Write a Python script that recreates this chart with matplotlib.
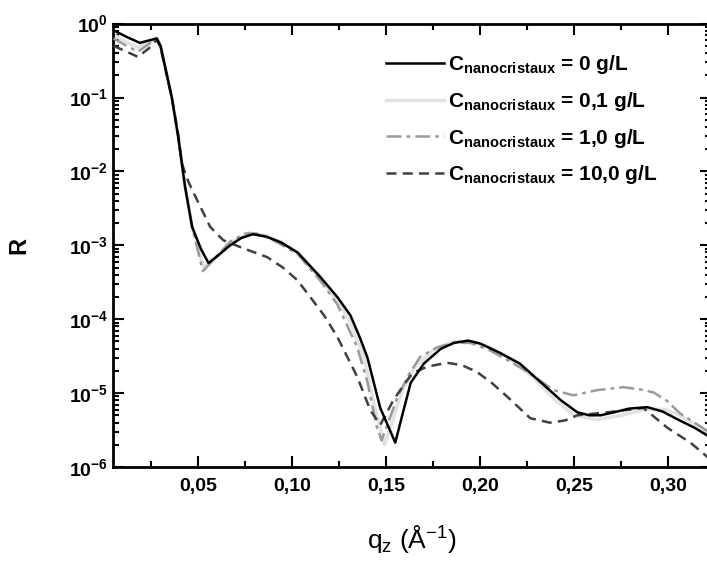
import numpy as np
import matplotlib
matplotlib.use("Agg")
import matplotlib.pyplot as plt
from matplotlib.ticker import LogLocator, MultipleLocator, FuncFormatter, NullFormatter

plt.rcParams['font.family'] = ['Liberation Sans', 'DejaVu Sans']
plt.rcParams['mathtext.default'] = 'regular'

# reflectivity curves, q_z in 1/A, values given as log10(R)
q_0 = [0.005, 0.012, 0.019, 0.028, 0.030, 0.036, 0.0394, 0.043, 0.0468, 0.0515, 0.0555,
       0.060, 0.067, 0.073, 0.079, 0.086, 0.094, 0.103, 0.115, 0.124, 0.131, 0.136,
       0.140, 0.1468, 0.1548, 0.1585, 0.163, 0.170, 0.179, 0.186, 0.1936, 0.200, 0.210,
       0.221, 0.232, 0.243, 0.2516, 0.258, 0.264, 0.271, 0.279, 0.2888, 0.297, 0.306,
       0.314, 0.3224]
logr_0 = [-0.09, -0.18, -0.26, -0.20, -0.30, -1.00, -1.53, -2.20, -2.75, -3.05, -3.24,
          -3.15, -3.00, -2.90, -2.85, -2.88, -2.96, -3.10, -3.43, -3.70, -3.95, -4.25,
          -4.52, -5.20, -5.67, -5.30, -4.86, -4.60, -4.40, -4.32, -4.29, -4.33, -4.45,
          -4.60, -4.85, -5.10, -5.26, -5.30, -5.30, -5.26, -5.21, -5.19, -5.25, -5.37,
          -5.47, -5.60]

q_01 = [0.005, 0.012, 0.018, 0.028, 0.030, 0.036, 0.0394, 0.043, 0.0468, 0.053, 0.058,
        0.067, 0.077, 0.086, 0.094, 0.103, 0.115, 0.124, 0.131, 0.138, 0.144, 0.149,
        0.153, 0.158, 0.165, 0.175, 0.186, 0.195, 0.205, 0.215, 0.228, 0.240, 0.250,
        0.262, 0.275, 0.288, 0.298, 0.306, 0.3224]
logr_01 = [-0.15, -0.25, -0.32, -0.20, -0.30, -1.00, -1.53, -2.20, -2.75, -3.30, -3.20,
           -2.97, -2.83, -2.87, -2.95, -3.10, -3.45, -3.75, -4.05, -4.50, -5.20, -5.70,
           -5.40, -5.00, -4.65, -4.42, -4.30, -4.30, -4.38, -4.52, -4.78, -5.10, -5.30,
           -5.36, -5.30, -5.22, -5.22, -5.30, -5.55]

q_1 = [0.005, 0.012, 0.018, 0.028, 0.030, 0.036, 0.0394, 0.043, 0.0468, 0.0525, 0.058,
       0.067, 0.075, 0.081, 0.090, 0.103, 0.115, 0.124, 0.1346, 0.140, 0.145, 0.1475,
       0.151, 0.156, 0.162, 0.168, 0.177, 0.186, 0.1947, 0.205, 0.215, 0.225, 0.239,
       0.2495, 0.262, 0.276, 0.285, 0.292, 0.299, 0.306, 0.3224]
logr_1 = [-0.20, -0.30, -0.38, -0.20, -0.30, -1.00, -1.53, -2.20, -2.75, -3.35, -3.20,
          -2.95, -2.84, -2.84, -2.93, -3.12, -3.48, -3.80, -4.38, -4.85, -5.46, -5.64,
          -5.40, -5.05, -4.75, -4.51, -4.38, -4.32, -4.32, -4.42, -4.56, -4.71, -4.96,
          -5.03, -4.96, -4.92, -4.95, -4.99, -5.10, -5.27, -5.54]

q_10 = [0.005, 0.012, 0.018, 0.024, 0.028, 0.030, 0.036, 0.0394, 0.0413, 0.045, 0.0495,
        0.0564, 0.0633, 0.074, 0.0867, 0.095, 0.1027, 0.1096, 0.117, 0.124, 0.1346,
        0.1415, 0.1468, 0.1537, 0.159, 0.164, 0.172, 0.1824, 0.190, 0.198, 0.206, 0.2144,
        0.2266, 0.237, 0.245, 0.2516, 0.2676, 0.2867, 0.2995, 0.3117, 0.3224]
logr_10 = [-0.30, -0.38, -0.45, -0.33, -0.22, -0.32, -1.00, -1.50, -1.89, -2.15, -2.39,
           -2.75, -2.93, -3.04, -3.16, -3.30, -3.47, -3.70, -3.95, -4.24, -4.78,
           -5.23, -5.43, -5.10, -4.90, -4.73, -4.64, -4.59, -4.62, -4.71, -4.86, -5.05,
           -5.34, -5.40, -5.37, -5.30, -5.26, -5.20, -5.47, -5.67, -5.90]

labels = ['C$_{nanocristaux}$ = 0 g/L', 'C$_{nanocristaux}$ = 0,1 g/L',
          'C$_{nanocristaux}$ = 1,0 g/L', 'C$_{nanocristaux}$ = 10,0 g/L']

fig = plt.figure(figsize=(7.07, 5.63), dpi=100)
ax = fig.add_axes([0.16, 0.1705, 0.845, 0.7875])

ax.plot(q_0, 10 ** np.array(logr_0), color='black', lw=1.8, ls='-', label=labels[0], zorder=5)
ax.plot(q_01, 10 ** np.array(logr_01), color='#e2e2e2', lw=2.5, ls='-', label=labels[1], zorder=2)
ax.plot(q_1, 10 ** np.array(logr_1), color='#9a9a9a', lw=1.8, ls=(0, (6, 2, 1.5, 2)), label=labels[2], zorder=3)
ax.plot(q_10, 10 ** np.array(logr_10), color='#404040', lw=1.8, ls=(0, (4, 2.5)), label=labels[3], zorder=4)

ax.set_yscale('log')
ax.set_ylim(1e-6, 1)
ax.set_xlim(0.0048, 0.3224)

ax.xaxis.set_major_locator(MultipleLocator(0.05))
ax.xaxis.set_minor_locator(MultipleLocator(0.025))
ax.xaxis.set_major_formatter(FuncFormatter(lambda v, p: ('%.2f' % v).replace('.', ',')))
ax.yaxis.set_major_locator(LogLocator(base=10, numticks=10))
ax.yaxis.set_minor_locator(LogLocator(base=10, subs=np.arange(2, 10), numticks=10))
ax.yaxis.set_minor_formatter(NullFormatter())
ax.yaxis.set_major_formatter(FuncFormatter(lambda v, p: r'10$^{%d}$' % int(round(np.log10(v)))))

ax.tick_params(which='both', direction='in', top=True, right=True, width=1.5)
ax.tick_params(which='major', length=8, labelsize=14)
ax.tick_params(which='minor', length=4)
ax.tick_params(axis='x', which='major', pad=8)
for lab in ax.get_xticklabels() + ax.get_yticklabels():
    lab.set_fontweight('bold')
for s in ax.spines.values():
    s.set_linewidth(2)

ax.set_ylabel('R', fontsize=17, fontweight='bold', labelpad=28)
ax.set_xlabel('q$_z$ (Å$^{-1}$)', fontsize=19, labelpad=20)

ax.legend(loc='upper left', bbox_to_anchor=(0.425, 0.975), frameon=False,
          prop={'weight': 'bold', 'size': 15}, handlelength=2.8, handletextpad=0.2,
          labelspacing=0.65)

fig.savefig('out.png', dpi=100)
